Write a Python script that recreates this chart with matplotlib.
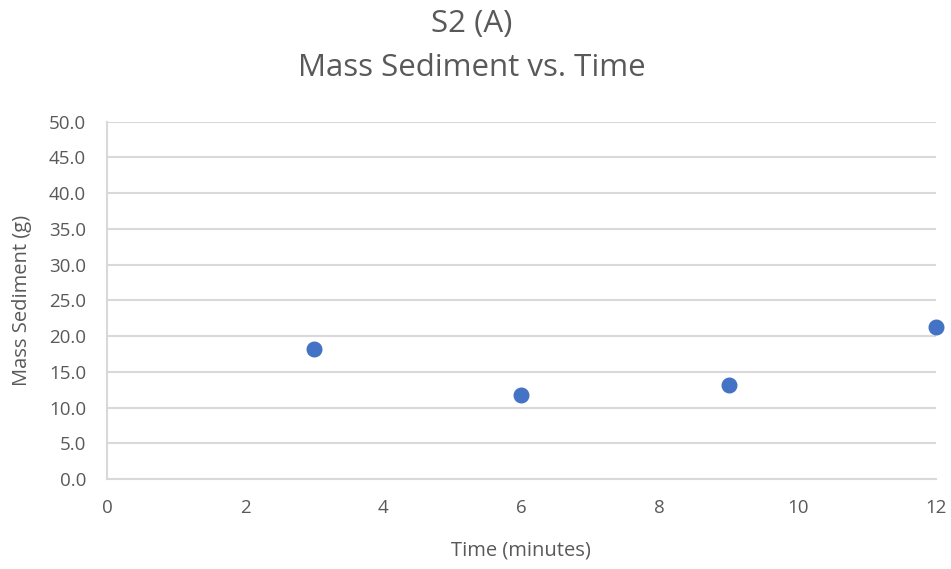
import matplotlib.pyplot as plt

# Mass of sediment collected at each sampling time, site S2 (A)
time_min = [3, 6, 9, 12]
mass_g = [18.2, 11.7, 13.1, 21.3]

x_ticks = [0, 2, 4, 6, 8, 10, 12]
y_ticks = [0, 5, 10, 15, 20, 25, 30, 35, 40, 45, 50]

TEXT = "#595959"
GRID = "#d9d9d9"
BLUE = "#4472C4"

plt.rcParams["font.family"] = ["Open Sans", "DejaVu Sans"]

fig = plt.figure(figsize=(9.51, 5.69), dpi=100)
ax = fig.add_axes([0.1125, 0.158, 0.8715, 0.628])

ax.plot(time_min, mass_g, linestyle="none", marker="o", markersize=10.5,
        color=BLUE, clip_on=False, zorder=3)

ax.set_xlim(0, 12)
ax.set_ylim(0, 50)
ax.set_xticks(x_ticks)
ax.set_yticks(y_ticks)
ax.set_yticklabels([f"{v:.1f}" for v in y_ticks])
ax.tick_params(length=0, labelsize=13.5, colors=TEXT)
ax.tick_params(axis="y", pad=15)
ax.tick_params(axis="x", pad=14)

ax.grid(axis="y", color=GRID, linewidth=1.5)
ax.set_axisbelow(True)
for side in ("top", "right"):
    ax.spines[side].set_visible(False)
for side in ("left", "bottom"):
    ax.spines[side].set_color(GRID)
    ax.spines[side].set_linewidth(1.5)

ax.set_xlabel("Time (minutes)", fontsize=14.5, color=TEXT, labelpad=17)
ax.set_ylabel("Mass Sediment (g)", fontsize=14.5, color=TEXT, labelpad=12)

fig.text(0.496, 0.958, "S2 (A)", ha="center", va="center", fontsize=22.5, color=TEXT)
fig.text(0.496, 0.880, "Mass Sediment vs. Time", ha="center", va="center",
         fontsize=22.5, color=TEXT)

fig.savefig("out.png", dpi=100)
